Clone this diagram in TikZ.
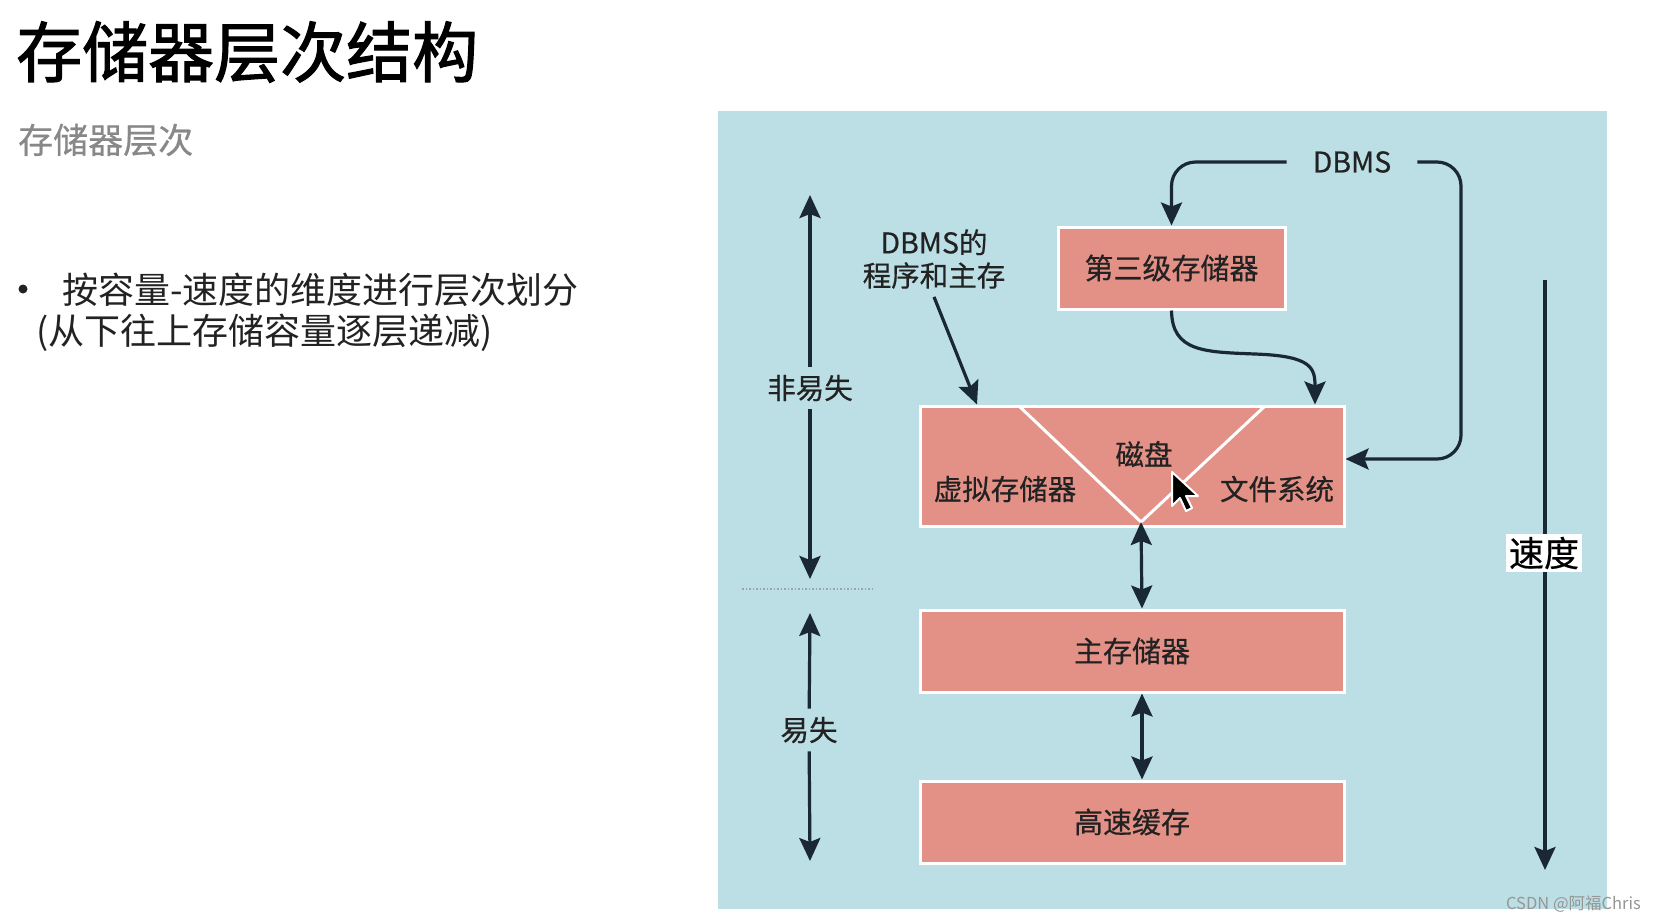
\documentclass[tikz,border=0pt]{standalone}
\usepackage{fontspec}
\setmainfont{Noto Sans CJK SC}
\newfontfamily\titlefont[FakeBold=1.6]{Noto Sans CJK SC}
\newfontfamily\labfont[FakeBold=0.5]{Noto Sans CJK SC}
\usetikzlibrary{arrows.meta}
\definecolor{bgblue}{RGB}{187,223,229}
\definecolor{boxred}{RGB}{227,145,135}
\definecolor{navy}{RGB}{26,40,54}
\definecolor{txt}{RGB}{34,34,34}
\definecolor{subgray}{RGB}{136,136,136}
\definecolor{wmgray}{RGB}{150,150,150}
\begin{document}
\begin{tikzpicture}[x=1pt,y=-1pt,
  membox/.style={draw=white, line width=3pt, fill=boxred, inner sep=0pt, text=txt, font=\labfont\fontsize{29}{32}\selectfont},
  arr/.style={draw=navy, line width=3.2pt, -{Stealth[length=23pt,width=21pt,inset=4pt]}},
  dblarr/.style={draw=navy, line width=3.2pt, {Stealth[length=23pt,width=21pt,inset=4pt]}-{Stealth[length=23pt,width=21pt,inset=4pt]}},
  lbl/.style={text=txt, font=\labfont\fontsize{28.5}{33}\selectfont, inner sep=0pt},
  lefttxt/.style={anchor=west, inner sep=0pt, text=txt},
]
\useasboundingbox (0,0) rectangle (1656,922);
\fill[white] (0,0) rectangle (1656,922);
\fill[bgblue] (718,111) rectangle (1607,909);

% left text
\node[lefttxt, text=black, font=\titlefont\fontsize{66}{70}\selectfont] (title) at (16,52) {存储器层次结构};
\node[lefttxt, text=subgray, font=\labfont\fontsize{35}{40}\selectfont] (sub) at (18,140) {存储器层次};
\node[circle, fill=txt, inner sep=0pt, minimum size=9pt] (bul) at (23,289) {};
\node[lefttxt, font=\fontsize{36}{40}\selectfont] (t1) at (62,290) {按容量-速度的维度进行层次划分};
\node[lefttxt, font=\fontsize{36}{40}\selectfont] (t2) at (36,333) {(从下往上存储容量逐层递减)};

% boxes
\node[membox, minimum width=227, minimum height=82] (tert) at (1171.5,268) {第三级存储器};
\node[membox, minimum width=424, minimum height=120] (disk) at (1132,466) {};
\node[membox, minimum width=424, minimum height=82] (main) at (1132,651) {主存储器};
\node[membox, minimum width=424, minimum height=82] (cache) at (1132,822) {高速缓存};

% disk triangle
\coordinate (apex) at (1141,522);
\draw[white, line width=3pt, line join=miter] (1019,406) -- (apex) -- (1265,406);
\node[lbl] (cipan) at (1144,454) {磁盘};
\node[lbl] (vm) at (1005,489) {虚拟存储器};
\node[lbl] (fs) at (1277,489) {文件系统};

% cursor
\draw[white, line width=2pt, fill=black, line join=round] (1172,472) -- ++(0,34) -- ++(8,-8) -- ++(6,13) -- ++(6,-3) -- ++(-6,-12) -- ++(12,0) -- cycle;

% vertical arrows between levels
\draw[dblarr] (apex) -- ([xshift=10pt]main.north);
\draw[dblarr] ([xshift=10pt]main.south) -- ([xshift=10pt]cache.north);

% DBMS
\node[lbl, inner xsep=26pt] (dbms) at (1352,162) {DBMS};
\draw[arr, rounded corners=24pt] (dbms.west) -| (tert.north);
\draw[arr, rounded corners=24pt] (dbms.east) -- (1461,162) -- (1461,459) -- ([yshift=7pt]disk.east);
\draw[arr] (tert.south) .. controls (1172,352) and (1205,352) .. (1255,354) .. controls (1312,356) and (1315,368) .. ([xshift=183pt]disk.north);

% DBMS program
\node[lbl, align=center, font=\labfont\fontsize{28.5}{33}\selectfont] (prog) at (934,259) {DBMS的\\程序和主存};
\draw[arr] ([yshift=-8pt]prog.south) -- ([xshift=-155pt]disk.north);

% left ranges
\coordinate (nvtop) at (810,195);
\coordinate (nvbot) at (810,579);
\node[lbl, fill=bgblue, inner ysep=8pt] (nv) at (810,388) {非易失};
\draw[arr] (nv) -- (nvtop);
\draw[arr] (nv) -- (nvbot);
\draw[draw=gray!60!bgblue, line width=1.5pt, dash pattern=on 1.5pt off 2pt] (742,589) -- (872,589);
\coordinate (vtop) at (810,613);
\coordinate (vbot) at (810,861);
\node[lbl, fill=bgblue, inner ysep=8pt] (vol) at (809,730) {易失};
\draw[arr] (vol) -- (vtop);
\draw[arr] (vol) -- (vbot);

% speed
\coordinate (sptop) at (1545,280);
\coordinate (spbot) at (1545,870);
\draw[arr] (sptop) -- (spbot);
\node[fill=white, inner xsep=3pt, inner ysep=3pt, text=black, font=\labfont\fontsize{35}{38}\selectfont] (speed) at (1544,553) {速度};

% watermark
\node[anchor=east, inner sep=0pt, text=wmgray, font=\fontsize{16.5}{18}\selectfont] (wm) at (1641,904) {CSDN @阿福Chris};
\end{tikzpicture}
\end{document}
